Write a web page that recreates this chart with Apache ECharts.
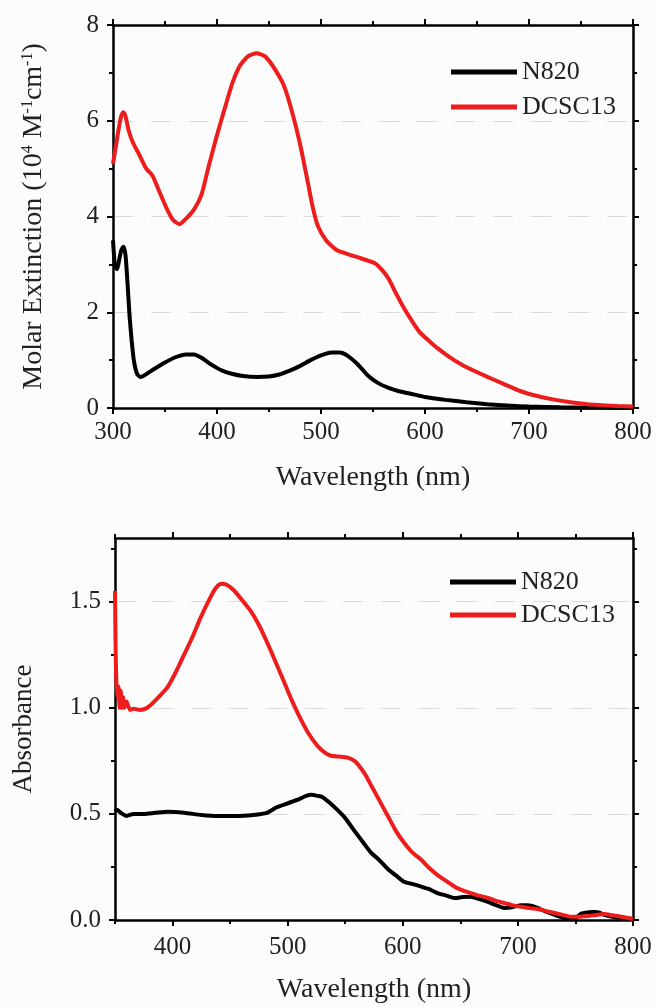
<!DOCTYPE html>
<html>
<head>
<meta charset="utf-8">
<script src="https://cdn.jsdelivr.net/npm/echarts@6/dist/echarts.min.js"></script>
<style>
  html, body { margin: 0; padding: 0; background: #fcfcfc; }
  #chart { width: 656px; height: 1007px; }
</style>
</head>
<body>
<div id="chart"></div>
<script>
// top panel: molar extinction (10^4 M^-1 cm^-1)
var topN820Wl = [300,302,304,306,308,310,312,314,316,318,320,323,326,330,340,350,360,370,378,385,395,405,415,425,438,450,460,470,480,490,500,510,518,525,535,545,555,565,575,590,600,620,640,660,680,700,730,760,800];
var topN820Val = [3.5,2.95,2.9,3.1,3.3,3.37,3.2,2.6,1.9,1.4,1.0,0.72,0.65,0.68,0.82,0.95,1.06,1.12,1.12,1.05,0.9,0.78,0.71,0.67,0.65,0.66,0.7,0.78,0.88,1.0,1.1,1.16,1.16,1.1,0.92,0.68,0.52,0.42,0.35,0.28,0.23,0.17,0.12,0.08,0.05,0.03,0.015,0.01,0.0];
var topDcscWl = [300,303,306,308,310,312,315,319,325,332,338,345,352,358,364,370,378,385,392,400,408,415,422,430,438,446,455,464,472,480,487,492,497,505,515,525,535,545,552,558,565,572,580,588,595,605,612,620,628,640,660,676,692,708,723,740,756,770,785,800];
var topDcscVal = [5.1,5.5,5.9,6.1,6.18,6.1,5.8,5.55,5.3,5.0,4.85,4.5,4.15,3.92,3.84,3.95,4.15,4.45,5.05,5.7,6.3,6.8,7.15,7.35,7.41,7.35,7.1,6.75,6.2,5.5,4.75,4.2,3.8,3.5,3.3,3.22,3.15,3.08,3.02,2.9,2.7,2.4,2.08,1.8,1.58,1.38,1.25,1.12,1.0,0.85,0.65,0.5,0.35,0.25,0.18,0.12,0.08,0.06,0.04,0.03];

// bottom panel: absorbance
var botN820Wl = [350,352,355,360,366,375,385,396,410,425,439,455,470,482,490,500,510,516,521,526,530,536,543,550,558,565,572,580,587,594,601,608,616,623,630,638,645,652,659,666,674,681,688,695,703,708,713,717,724,732,739,746,750,755,761,767,771,775,782,790,800];
var botN820Val = [0.51,0.52,0.505,0.49,0.5,0.5,0.505,0.51,0.505,0.495,0.49,0.49,0.495,0.505,0.53,0.55,0.57,0.585,0.59,0.585,0.58,0.555,0.52,0.48,0.42,0.37,0.32,0.28,0.24,0.21,0.18,0.17,0.157,0.145,0.127,0.115,0.104,0.108,0.11,0.1,0.085,0.07,0.057,0.06,0.07,0.07,0.065,0.057,0.04,0.024,0.012,0.005,0.008,0.03,0.036,0.038,0.035,0.024,0.015,0.01,0.005];
var botDcscWl = [350,350.5,351,352,353,354,355,356,357,358,360,363,366,372,378,386,396,403,410,417,424,431,437,442,447,453,460,468,475,482,490,497,504,511,518,526,532,537,544,552,558,563,568,572,580,587,594,601,608,616,623,630,638,645,652,659,666,674,681,688,695,703,710,717,724,732,739,746,753,761,768,775,782,790,800];
var botDcscVal = [1.55,1.3,1.15,1.05,1.1,1.0,1.08,1.0,1.05,1.0,1.03,0.99,0.995,0.99,1.0,1.04,1.1,1.17,1.25,1.33,1.42,1.5,1.56,1.585,1.58,1.555,1.51,1.455,1.39,1.31,1.21,1.12,1.03,0.95,0.88,0.82,0.79,0.775,0.77,0.765,0.75,0.72,0.68,0.64,0.56,0.49,0.42,0.365,0.32,0.284,0.245,0.213,0.183,0.157,0.14,0.127,0.115,0.104,0.09,0.08,0.07,0.062,0.056,0.052,0.043,0.033,0.024,0.015,0.015,0.019,0.024,0.028,0.022,0.015,0.005];

// tick labels / positions
var topXMajor = [300,400,500,600,700,800];
var topXMinor = [350,450,550,650,750];
var topYMajor = [0,2,4,6,8];
var topYMinor = [1,3,5,7];
var botXMajor = [400,500,600,700,800];
var botXMinor = [350,450,550,650,750];
var botYMajor = [0,0.5,1.0,1.5];
var botYMinor = [0.25,0.75,1.25,1.75];

var FONT = 'Liberation Serif';
var TXT = '#222';

function zip(xs, ys) {
  var out = [];
  for (var i = 0; i < xs.length; i++) out.push([xs[i], ys[i]]);
  return out;
}

function tickAxis(g, pos, min, max, values, len, withLine, label) {
  return {
    gridIndex: g, type: 'value', position: pos, min: min, max: max,
    axisLine: { show: withLine, onZero: false, lineStyle: { color: '#000', width: 2.5 } },
    axisTick: { show: true, length: len, customValues: values, lineStyle: { color: '#000', width: 2 } },
    axisLabel: label ? label : { show: false },
    splitLine: { show: false }
  };
}

function labelStyle(values, fmt, margin) {
  return {
    show: true, customValues: values, margin: margin, formatter: fmt,
    fontFamily: FONT, fontSize: 25, color: TXT
  };
}

var gridLine = { show: true, lineStyle: { color: '#dadada', width: 1, type: [20, 18] } };

// grid 0 axes
var xTopMain = tickAxis(0, 'bottom', 300, 800, topXMajor, 6, true, labelStyle(topXMajor, null, 12));
xTopMain.name = 'Wavelength (nm)';
xTopMain.nameLocation = 'middle';
xTopMain.nameGap = 56;
xTopMain.nameTextStyle = { fontFamily: FONT, fontSize: 28, color: TXT };

var yTopMain = tickAxis(0, 'left', 0, 8, topYMajor, 6, true, labelStyle(topYMajor, null, 14));
yTopMain.interval = 2;
yTopMain.splitLine = gridLine;
yTopMain.name = '{t|Molar Extinction (10}{s|4}{t| M}{s|-1}{t|cm}{s|-1}{t|)}';
yTopMain.nameLocation = 'middle';
yTopMain.nameGap = 65;
yTopMain.nameTextStyle = {
  fontFamily: FONT, fontSize: 28, color: TXT,
  rich: {
    t: { fontFamily: FONT, fontSize: 28, color: TXT },
    s: { fontFamily: FONT, fontSize: 16, color: TXT, verticalAlign: 'top' }
  }
};

// grid 1 axes
var xBotMain = tickAxis(1, 'bottom', 350, 800, botXMajor, 6, true, labelStyle(botXMajor, null, 15));
xBotMain.name = 'Wavelength (nm)';
xBotMain.nameLocation = 'middle';
xBotMain.nameGap = 56;
xBotMain.nameTextStyle = { fontFamily: FONT, fontSize: 28, color: TXT };

var yBotMain = tickAxis(1, 'left', 0, 1.8, botYMajor, 6, true,
  labelStyle(botYMajor, function (v) { return v.toFixed(1); }, 14));
yBotMain.interval = 0.5;
yBotMain.splitLine = gridLine;
yBotMain.name = 'Absorbance';
yBotMain.nameLocation = 'middle';
yBotMain.nameGap = 78;
yBotMain.nameTextStyle = { fontFamily: FONT, fontSize: 27, color: TXT };

var xAxes = [
  xTopMain,
  tickAxis(0, 'bottom', 300, 800, topXMinor, 4, false),
  tickAxis(0, 'top', 300, 800, topXMajor, 6, true),
  tickAxis(0, 'top', 300, 800, topXMinor, 4, false),
  xBotMain,
  tickAxis(1, 'bottom', 350, 800, botXMinor, 4, false),
  tickAxis(1, 'top', 350, 800, botXMajor, 6, true),
  tickAxis(1, 'top', 350, 800, botXMinor, 4, false)
];
var yAxes = [
  yTopMain,
  tickAxis(0, 'left', 0, 8, topYMinor, 4, false),
  tickAxis(0, 'right', 0, 8, topYMajor, 6, true),
  tickAxis(0, 'right', 0, 8, topYMinor, 4, false),
  yBotMain,
  tickAxis(1, 'left', 0, 1.8, botYMinor, 4, false),
  tickAxis(1, 'right', 0, 1.8, botYMajor, 6, true),
  tickAxis(1, 'right', 0, 1.8, botYMinor, 4, false)
];

function curve(name, color, xi, yi, data) {
  return {
    name: name, type: 'line', xAxisIndex: xi, yAxisIndex: yi,
    data: data, showSymbol: false, smooth: 0.2,
    lineStyle: { color: color, width: 4 },
    itemStyle: { color: color }
  };
}

var legendText = { fontFamily: FONT, fontSize: 26, color: TXT };

var option = {
  animation: false,
  backgroundColor: '#fcfcfc',
  grid: [
    { left: 113, top: 25, width: 520, height: 383 },
    { left: 115, top: 538, width: 518, height: 382 }
  ],
  legend: [
    { data: ['N820', 'DCSC13'], orient: 'vertical', left: 446, top: 54, icon: 'rect',
      itemWidth: 66, itemHeight: 5, itemGap: 9, selectedMode: false, textStyle: legendText },
    { data: ['N820', 'DCSC13'], orient: 'vertical', left: 445, top: 564, icon: 'rect',
      itemWidth: 66, itemHeight: 5, itemGap: 7, selectedMode: false, textStyle: legendText }
  ],
  xAxis: xAxes,
  yAxis: yAxes,
  series: [
    curve('N820', '#000000', 0, 0, zip(topN820Wl, topN820Val)),
    curve('DCSC13', '#ee1d1d', 0, 0, zip(topDcscWl, topDcscVal)),
    curve('N820', '#000000', 4, 4, zip(botN820Wl, botN820Val)),
    curve('DCSC13', '#ee1d1d', 4, 4, zip(botDcscWl, botDcscVal))
  ]
};

var myChart = echarts.init(document.getElementById('chart'));
myChart.setOption(option);
</script>
</body>
</html>
